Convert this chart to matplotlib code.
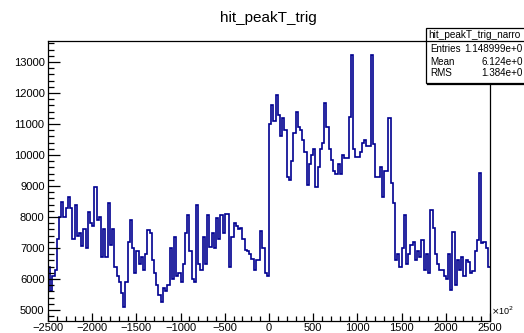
import numpy as np
import matplotlib
matplotlib.use("Agg")
import matplotlib.pyplot as plt
from matplotlib.patches import Rectangle
from matplotlib.lines import Line2D
from matplotlib.ticker import MultipleLocator

plt.rcParams["font.family"] = ["Liberation Sans", "DejaVu Sans"]

# Histogram: 200 bins of width 25 from -2500 to 2500 (axis units of x10^2)
x_min, x_max, bin_width = -2500, 2500, 25

counts_m2500 = [6400, 5600, 6100, 6300, 7300, 8000, 8500, 8000, 8300, 8650,
                8300, 7300, 8400, 7400, 7500, 7050, 7600, 7000, 8150, 7800]
counts_m2000 = [7700, 8980, 7900, 8000, 6700, 7600, 6700, 8450, 7100, 7600,
                6400, 6100, 5900, 5550, 5100, 5900, 7200, 7900, 7000, 6200]
counts_m1500 = [6900, 6500, 6700, 6300, 6800, 7580, 7500, 6600, 6200, 5800,
                5500, 5270, 5700, 5600, 5800, 7000, 6000, 7360, 6100, 6200]
counts_m1000 = [5900, 6500, 7480, 8060, 6900, 6000, 5900, 8400, 6500, 6300,
                7350, 6500, 8060, 7040, 7500, 7000, 7970, 7300, 8060, 7500]
counts_m500 = [8100, 8100, 6400, 7350, 7800, 7700, 7600, 7650, 7300, 6950,
               6900, 6800, 6650, 6300, 6600, 6600, 7550, 7000, 6200, 6100]
counts_0 = [11000, 11600, 11100, 11940, 11300, 10600, 11200, 10800, 9300, 9200,
            9800, 10700, 11400, 10900, 10800, 10500, 10100, 9030, 9700, 10000]
counts_500 = [10200, 8980, 9600, 10200, 10400, 11670, 10900, 10200, 9850, 9500,
              9400, 9700, 9400, 10000, 9900, 9900, 11230, 13230, 10200, 9950]
counts_1000 = [9950, 10100, 10400, 10500, 10300, 10300, 13230, 10350, 9300, 9300,
               9600, 8650, 9500, 9500, 11200, 9100, 8450, 6600, 6800, 6400]
counts_1500 = [7000, 8060, 6500, 6800, 7100, 7200, 6600, 6900, 6700, 7250,
               6300, 6800, 6200, 8220, 7650, 6800, 6500, 6300, 6300, 6100]
counts_2000 = [6000, 6800, 5650, 7530, 5800, 6600, 6300, 6700, 6100, 6600,
               6550, 6200, 6250, 6900, 7260, 9420, 7150, 7200, 7000, 6400]

counts = np.array(counts_m2500 + counts_m2000 + counts_m1500 + counts_m1000
                  + counts_m500 + counts_0 + counts_500 + counts_1000
                  + counts_1500 + counts_2000, dtype=float)
edges = np.arange(x_min, x_max + bin_width, bin_width)

title = "hit_peakT_trig"
stats_name = "hit_peakT_trig_narro"
stats_labels = ["Entries", "Mean", "RMS"]
stats_values = ["1.148999e+0", "6.124e+0", "1.384e+0"]

W, H = 524, 333
fig = plt.figure(figsize=(W / 100, H / 100), dpi=100)
fig.patch.set_facecolor("white")

left, right, top, bottom = 48, 490, 41, 320.7
ax = fig.add_axes([left / W, (H - bottom) / H, (right - left) / W, (bottom - top) / H])

ax.stairs(counts, edges, baseline=None, color="#000090", linewidth=1.2)

ax.set_xlim(x_min, x_max)
ax.set_ylim(4655, 13680)

ax.xaxis.set_major_locator(MultipleLocator(500))
ax.xaxis.set_minor_locator(MultipleLocator(100))
ax.yaxis.set_major_locator(MultipleLocator(1000))
ax.yaxis.set_minor_locator(MultipleLocator(200))

ax.tick_params(which="both", direction="in", top=False, right=False,
               colors="black", labelsize=8, width=0.9)
ax.xaxis.set_tick_params(which="major", length=6.0, pad=1.5)
ax.xaxis.set_tick_params(which="minor", length=3.3)
ax.yaxis.set_tick_params(which="major", length=8.4, pad=2.5)
ax.yaxis.set_tick_params(which="minor", length=4.2)

for s in ax.spines.values():
    s.set_linewidth(0.9)
    s.set_color("black")

# Title
fig.text(268 / W, 1 - 18 / H, title, ha="center", va="center", fontsize=11)

# Exponent marker on x axis
fig.text(491 / W, 1 - 311 / H, r"$\times$10$^{2}$", ha="left", va="center", fontsize=6.5)

# Statistics box (runs to the canvas edge)
bx0, by0, bx1, by1 = 425.5, 28.3, 580, 83.3
box = Rectangle((bx0 / W, 1 - by1 / H), (bx1 - bx0) / W, (by1 - by0) / H,
                transform=fig.transFigure, facecolor="white", edgecolor="black",
                linewidth=0.9, zorder=5)
fig.add_artist(box)
# drop shadow along the bottom
fig.add_artist(Line2D([(bx0 + 1.5) / W, 1.0], [1 - (by1 + 1) / H, 1 - (by1 + 1) / H],
                      transform=fig.transFigure, color="black", linewidth=0.9, zorder=5))
fig.add_artist(Line2D([bx0 / W, 1.0], [1 - 41 / H, 1 - 41 / H],
                      transform=fig.transFigure, color="black", linewidth=0.9, zorder=6))

fig.text(428 / W, 1 - 34.8 / H, stats_name, ha="left", va="center",
         fontsize=7.2, zorder=7)
row_y = [48.8, 61.8, 73.5]
for lab, val, yy in zip(stats_labels, stats_values, row_y):
    fig.text(430 / W, 1 - yy / H, lab, ha="left", va="center", fontsize=7.1, zorder=7)
    fig.text(523 / W, 1 - yy / H, val, ha="right", va="center", fontsize=7.1, zorder=7)

fig.savefig("out.png", dpi=100, facecolor="white")
